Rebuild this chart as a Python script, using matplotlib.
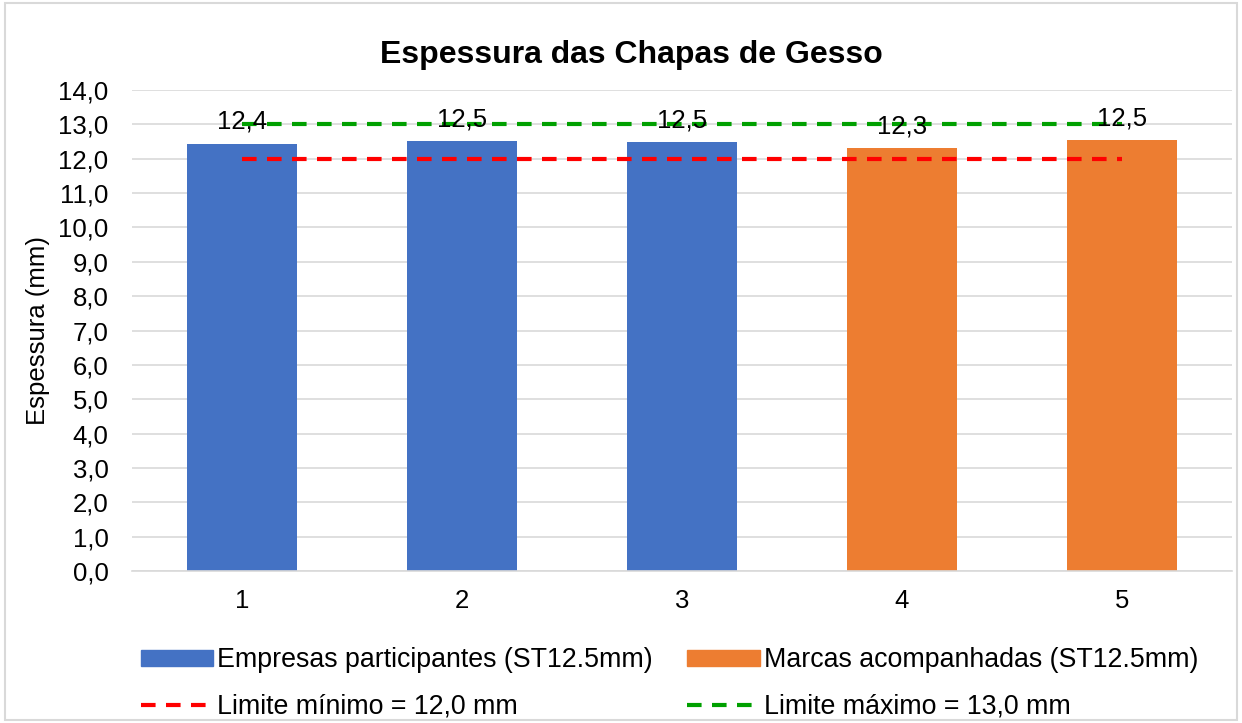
import matplotlib.pyplot as plt
from matplotlib.patches import Patch, Rectangle
from matplotlib.lines import Line2D

plt.rcParams["font.family"] = ["Liberation Sans", "DejaVu Sans"]

amostras = [1, 2, 3, 4, 5]
espessura = [12.44, 12.51, 12.49, 12.31, 12.54]
rotulos = ["12,4", "12,5", "12,5", "12,3", "12,5"]
grupo = ["emp", "emp", "emp", "marca", "marca"]
limite_min = 12.0
limite_max = 13.0
yticks = list(range(0, 15))

AZUL = "#4472C4"
LARANJA = "#ED7D31"
cores = [AZUL if g == "emp" else LARANJA for g in grupo]
FS = 18.5

fig = plt.figure(figsize=(12.42, 7.23), dpi=100)
ax = fig.add_axes([132 / 1242, 152 / 723, 1100 / 1242, 481 / 723])

ax.bar(amostras, espessura, width=0.5, color=cores, zorder=2)
ax.plot([amostras[0], amostras[-1]], [limite_min] * 2, color="#FF0000",
        linestyle=(0, (3.5, 2.5)), linewidth=3, zorder=3)
ax.plot([amostras[0], amostras[-1]], [limite_max] * 2, color="#00A000",
        linestyle=(0, (3.5, 2.5)), linewidth=3, zorder=3)

for x, v, r in zip(amostras, espessura, rotulos):
    ax.annotate(r, (x, v), xytext=(0, 7), textcoords="offset points",
                ha="center", va="bottom", fontsize=FS, zorder=4)

ax.set_xlim(0.5, 5.5)
ax.set_ylim(0, 14)
ax.set_yticks(yticks)
ax.set_yticklabels([f"{t:.1f}".replace(".", ",") for t in yticks])
ax.set_xticks(amostras)
ax.tick_params(axis="both", length=0, labelsize=FS, colors="black")
ax.tick_params(axis="y", pad=17)
ax.tick_params(axis="x", pad=13)
ax.grid(axis="y", color="#D9D9D9", linewidth=1.2, zorder=0)
for s in ["top", "right", "left"]:
    ax.spines[s].set_visible(False)
ax.spines["bottom"].set_color("#D9D9D9")
ax.spines["bottom"].set_linewidth(1.2)
ax.set_ylabel("Espessura (mm)", fontsize=FS, labelpad=6)

fig.text(0.508, 0.924, "Espessura das Chapas de Gesso", ha="center", va="center",
         fontsize=23, fontweight="bold")

handles = [
    Patch(color=AZUL, label="Empresas participantes (ST12.5mm)"),
    Line2D([], [], color="#FF0000", linestyle=(0, (3.5, 2.5)), linewidth=3,
           label="Limite mínimo = 12,0 mm"),
    Patch(color=LARANJA, label="Marcas acompanhadas (ST12.5mm)"),
    Line2D([], [], color="#00A000", linestyle=(0, (3.5, 2.5)), linewidth=3,
           label="Limite máximo = 13,0 mm"),
]
fig.legend(handles=handles, ncol=2, loc="center", bbox_to_anchor=(0.539, 0.055),
           frameon=False, fontsize=19.3, handlelength=2.7, handleheight=0.55,
           handletextpad=0.15, columnspacing=1.3, labelspacing=0.75,
           borderpad=0)

fig.add_artist(Rectangle((0.004, 0.004), 0.992, 0.992, transform=fig.transFigure,
                         fill=False, edgecolor="#D9D9D9", linewidth=1.5))

fig.savefig("out.png", dpi=100)
